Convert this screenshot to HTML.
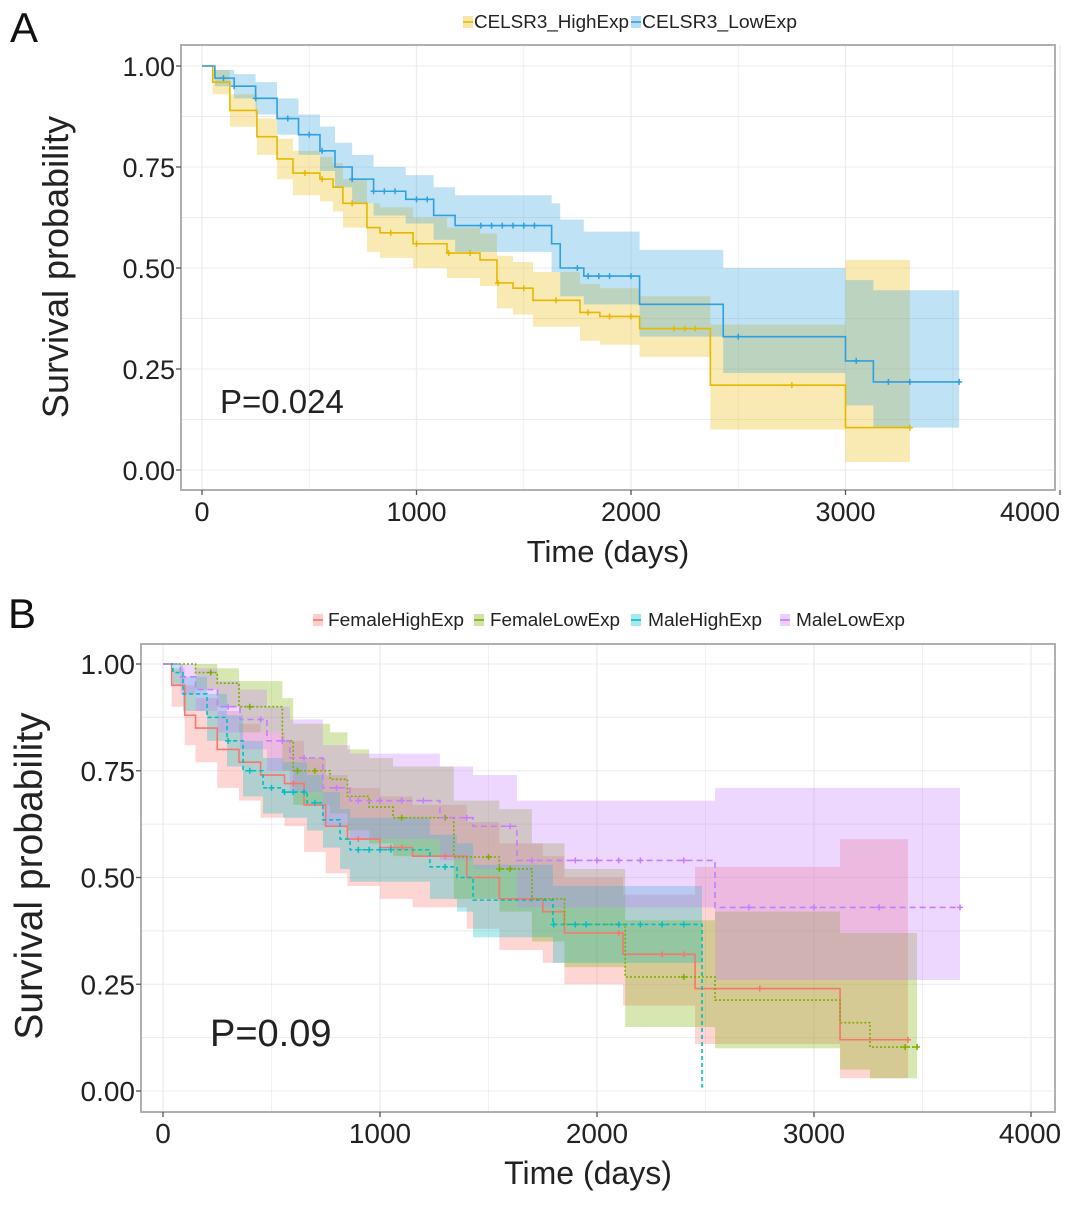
<!DOCTYPE html>
<html><head><meta charset="utf-8"><style>
body{margin:0;background:#fff;}
svg text{font-family:"Liberation Sans",sans-serif;}
</style></head><body>
<svg id="chart" width="1087" height="1205" viewBox="0 0 1087 1205" xmlns="http://www.w3.org/2000/svg"></svg>
<script>
// ---------- Panel A data ----------
const aTicksX = [0,1000,2000,3000,4000];
const aTicksY = [0,0.25,0.5,0.75,1];
const aTickLabelsY = ["0.00","0.25","0.50","0.75","1.00"];
const aHighT  = [0,50,130,256,350,424,550,611,657,769,830,984,1142,1296,1375,1450,1543,1762,1855,2040,2370,3000];
const aHighS  = [1,.96,.89,.825,.77,.735,.72,.70,.66,.60,.587,.56,.537,.52,.463,.45,.42,.39,.38,.35,.21,.105];
const aHighLo = [1,.93,.85,.78,.72,.68,.665,.64,.60,.54,.525,.50,.475,.455,.40,.385,.355,.32,.31,.28,.10,.02];
const aHighHi = [1,.99,.93,.87,.82,.79,.775,.76,.72,.66,.65,.625,.60,.585,.53,.515,.49,.46,.45,.43,.36,.52];
const aHighEnd = 3300;
const aHighCens = [480,560,700,880,1000,1150,1250,1380,1500,1650,1800,1900,2000,2200,2250,2300,2750,3300];
const aLowT  = [0,60,150,250,350,450,550,620,700,800,950,1080,1180,1630,1670,1780,2040,2430,3000,3130];
const aLowS  = [1,.97,.95,.92,.87,.83,.79,.75,.72,.69,.67,.63,.605,.56,.50,.48,.41,.33,.27,.218];
const aLowLo = [1,.95,.92,.88,.83,.78,.74,.70,.66,.63,.61,.57,.54,.49,.43,.41,.33,.24,.16,.105];
const aLowHi = [1,.99,.98,.96,.92,.88,.85,.81,.78,.75,.73,.70,.68,.66,.62,.59,.545,.50,.47,.445];
const aLowEnd = 3530;
const aLowCens = [100,150,250,400,500,560,700,800,850,900,1000,1050,1300,1350,1400,1450,1500,1550,1750,1800,1850,1900,2000,2500,3050,3200,3300,3530];

// ---------- Panel B data ----------
const bFHT  = [0,40,100,150,250,350,450,560,650,750,850,1000,1150,1400,1550,1750,1850,2120,2452,3120];
const bFHS  = [1,.95,.88,.85,.80,.77,.74,.72,.67,.62,.59,.57,.55,.50,.45,.42,.37,.32,.24,.12];
const bFHLo = [1,.90,.81,.77,.71,.68,.64,.62,.56,.51,.48,.45,.43,.38,.33,.30,.25,.20,.11,.03];
const bFHHi = [1,.99,.95,.92,.89,.86,.84,.82,.78,.74,.71,.69,.67,.63,.58,.55,.50,.46,.525,.59];
const bFHEnd = 3433;
const bFHCens = [600,900,1050,1100,1300,1700,2100,2300,2400,2750,3433];
const bFLT  = [0,150,250,350,550,600,770,850,950,1060,1340,1550,1700,1850,2130,2544,3120,3258];
const bFLS  = [1,.98,.955,.90,.82,.75,.73,.69,.665,.64,.548,.52,.45,.39,.267,.213,.16,.103];
const bFLLo = [1,.94,.90,.84,.75,.67,.65,.61,.58,.55,.45,.42,.35,.29,.15,.10,.05,.03];
const bFLHi = [1,1,.99,.96,.92,.86,.84,.80,.78,.76,.68,.66,.58,.52,.40,.42,.37,.37];
const bFLEnd = 3475;
const bFLCens = [220,400,620,700,1100,1300,1500,1550,1600,2400,3420,3475];
const bMHT  = [0,46,92,203,295,369,461,553,664,737,816,862,1230,1355,1429,1797,2484];
const bMHS  = [1,.98,.93,.875,.82,.75,.71,.70,.675,.635,.59,.565,.525,.50,.447,.39,.01];
const bMHLo = [1,.95,.89,.82,.76,.69,.65,.64,.61,.57,.52,.49,.45,.42,.36,.30,.01];
const bMHHi = [1,1,.97,.93,.88,.82,.78,.77,.74,.70,.66,.64,.60,.58,.53,.48,.01];
const bMHEnd = 2490;
const bMHCens = [300,400,500,560,600,650,700,900,950,1000,1050,1300,1800,1900,1950,2100,2200,2300,2400];
const bMLT  = [0,80,150,251,355,479,585,737,862,1276,1429,1631,2544];
const bMLS  = [1,.97,.94,.90,.87,.82,.78,.71,.68,.64,.62,.54,.43];
const bMLLo = [1,.93,.89,.84,.80,.75,.70,.62,.59,.54,.52,.43,.26];
const bMLHi = [1,1,.99,.96,.94,.90,.87,.81,.79,.76,.74,.68,.71];
const bMLEnd = 3673;
const bMLCens = [300,450,550,650,800,900,1000,1100,1200,1400,1600,1700,1900,2000,2100,2200,2400,2700,3000,3300,3673];

const NS = "http://www.w3.org/2000/svg";
const svg = document.getElementById("chart");
function mk(tag, attrs, parent){
  const e = document.createElementNS(NS, tag);
  for (const k in attrs) e.setAttribute(k, attrs[k]);
  (parent||svg).appendChild(e);
  return e;
}

function panel(cfg){
  const g = mk("g", {});
  
  
  const X = t => cfg.x0 + t*cfg.kx;
  const Y = s => cfg.y0 - s*cfg.ky;
  const bg = mk("rect", {x:cfg.L, y:cfg.T, width:cfg.R-cfg.L, height:cfg.B-cfg.T, fill:"#fff"}, g);
  
  
  for (let t=0; t<=4000; t+=500){
    const gl = mk("line", {x1:X(t), x2:X(t), y1:cfg.T, y2:cfg.B, stroke:"#ececec", "stroke-width": t%1000?0.8:1.3}, g);
    
    
  }
  for (let s=0; s<=1.0001; s+=0.125){
    const gl = mk("line", {x1:cfg.L, x2:cfg.R, y1:Y(s), y2:Y(s), stroke:"#ececec", "stroke-width": 1.1}, g);
    
    
  }
  cfg.series.forEach(sr => {
    let d = "M"+X(sr.t[0])+","+Y(sr.hi[0]);
    for (let i=1;i<sr.t.length;i++) d += "H"+X(sr.t[i])+"V"+Y(sr.hi[i]);
    d += "H"+X(sr.end)+"V"+Y(sr.lo[sr.lo.length-1]);
    for (let i=sr.t.length-1;i>0;i--) d += "H"+X(sr.t[i])+"V"+Y(sr.lo[i-1]);
    d += "H"+X(sr.t[0])+"Z";
    const p = mk("path", {d:d, fill:sr.color, "fill-opacity":0.3, stroke:"none"}, g);
    
    
  });
  cfg.series.forEach(sr => {
    let d = "M"+X(sr.t[0])+","+Y(sr.s[0]);
    for (let i=1;i<sr.t.length;i++) d += "H"+X(sr.t[i])+"V"+Y(sr.s[i]);
    d += "H"+X(sr.end);
    const p = mk("path", {d:d, fill:"none", stroke:sr.color, "stroke-width":1.6, "stroke-dasharray":sr.dash||"none"}, g);
    
    
    sr.cens.forEach(c => {
      let v = sr.s[0];
      for (let i=0;i<sr.t.length;i++) if (sr.t[i]<=c) v = sr.s[i];
      const m = mk("path", {d:"M"+(X(c)-3)+","+Y(v)+"h6M"+X(c)+","+(Y(v)-3)+"v6", stroke:sr.color, "stroke-width":1.5}, g);
      
      
    });
  });
  const fr = mk("rect", {x:cfg.L, y:cfg.T, width:cfg.R-cfg.L, height:cfg.B-cfg.T, fill:"none", stroke:"#b0b0b0", "stroke-width":2}, g);
  
  
  aTicksX.forEach(t => {
    const tk = mk("line", {x1:X(t), x2:X(t), y1:cfg.B, y2:cfg.B+5, stroke:"#555", "stroke-width":1.3}, g);
    
    
    const tl = mk("text", {x:Math.min(X(t), 1030), y:cfg.B+31, "text-anchor":"middle", "font-size":cfg.tickSize, fill:"#222"}, g);
    tl.textContent = t;
    
    
  });
  aTicksY.forEach((s,i) => {
    const tk = mk("line", {x1:cfg.L-5, x2:cfg.L, y1:Y(s), y2:Y(s), stroke:"#555", "stroke-width":1.3}, g);
    
    
    const tl = mk("text", {x:cfg.L-6, y:Y(s)+10, "text-anchor":"end", "font-size":cfg.tickSize, fill:"#222"}, g);
    tl.textContent = aTickLabelsY[i];
    
    
  });
  const xt = mk("text", {x:(cfg.L+cfg.R)/2-10, y:cfg.B+72, "text-anchor":"middle", "font-size":cfg.xTitleSize, fill:"#222"}, g);
  xt.textContent = "Time (days)";
  
  
  const yt = mk("text", {x:0, y:0, "text-anchor":"middle", "font-size":cfg.yTitleSize, fill:"#222", transform:"translate("+cfg.yTitleX+","+cfg.yTitleY+") rotate(-90)"}, g);
  yt.textContent = "Survival probability";
  
  
  const pv = mk("text", {x:cfg.pX, y:cfg.pY, "font-size":cfg.pSize, fill:"#222"}, g);
  pv.textContent = cfg.pText;
  
  
  const pl = mk("text", {x:cfg.letterX, y:cfg.letterY, "font-size":42, fill:"#111"}, g);
  pl.textContent = cfg.letter;
  
  
  cfg.legend.forEach((it, i) => {
    const sr = cfg.series[i];
    const lg = mk("g", {}, g);
    
    
    const kr = mk("rect", {x:it.kx, y:cfg.legY-6, width:10, height:12, fill:sr.color, "fill-opacity":0.35}, lg);
    
    
    const kl = mk("line", {x1:it.kx, x2:it.kx+10, y1:cfg.legY, y2:cfg.legY, stroke:sr.color, "stroke-width":1.6}, lg);
    
    
    const lt = mk("text", {x:it.tx, y:cfg.legY+6, "font-size":18, fill:"#222", textLength:it.tw, lengthAdjust:"spacingAndGlyphs"}, lg);
    lt.textContent = it.label;
    
    
  });
}

panel({
  name:"panel-a", L:181, R:1055, T:45, B:490, x0:202, kx:0.2145, y0:470, ky:404,
  tickSize:27, xTitleSize:31, yTitleSize:36, yTitleX:68, yTitleY:267,
  pX:220, pY:413, pSize:33, pText:"P=0.024", letter:"A", letterX:10, letterY:42, legY:22,
  series:[
    {key:"celsr3-high", color:"#E7B800", t:aHighT, s:aHighS, lo:aHighLo, hi:aHighHi, end:aHighEnd, cens:aHighCens},
    {key:"celsr3-low",  color:"#2E9FDF", t:aLowT,  s:aLowS,  lo:aLowLo,  hi:aLowHi,  end:aLowEnd,  cens:aLowCens}
  ],
  legend:[
    {kx:463, tx:474, tw:155, label:"CELSR3_HighExp"},
    {kx:631, tx:642, tw:155, label:"CELSR3_LowExp"}
  ]
});

panel({
  name:"panel-b", L:141, R:1055, T:644, B:1112, x0:163, kx:0.2170, y0:1091, ky:427,
  tickSize:28, xTitleSize:32, yTitleSize:39, yTitleX:42, yTitleY:876,
  pX:210, pY:1046, pSize:38, pText:"P=0.09", letter:"B", letterX:8, letterY:628, legY:620,
  series:[
    {key:"female-high", color:"#F8766D", t:bFHT, s:bFHS, lo:bFHLo, hi:bFHHi, end:bFHEnd, cens:bFHCens},
    {key:"female-low",  color:"#7CAE00", t:bFLT, s:bFLS, lo:bFLLo, hi:bFLHi, end:bFLEnd, cens:bFLCens, dash:"2,2"},
    {key:"male-high",   color:"#00BFC4", t:bMHT, s:bMHS, lo:bMHLo, hi:bMHHi, end:bMHEnd, cens:bMHCens, dash:"4,3"},
    {key:"male-low",    color:"#C77CFF", t:bMLT, s:bMLS, lo:bMLLo, hi:bMLHi, end:bMLEnd, cens:bMLCens, dash:"6,4"}
  ],
  legend:[
    {kx:313, tx:328, tw:136, label:"FemaleHighExp"},
    {kx:474, tx:490, tw:130, label:"FemaleLowExp"},
    {kx:631, tx:648, tw:114, label:"MaleHighExp"},
    {kx:780, tx:796, tw:109, label:"MaleLowExp"}
  ]
});
</script>
</body></html>
